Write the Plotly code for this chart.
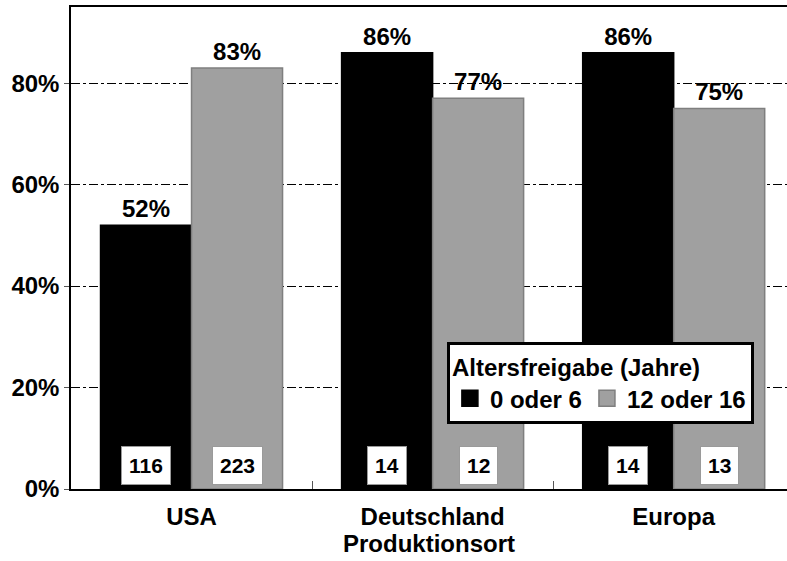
import plotly.graph_objects as go

categories = ["USA", "Deutschland", "Europa"]
series_names = ["0 oder 6", "12 oder 16"]
series_colors = ["#000000", "#a0a0a0"]
series_edges = ["#000000", "#7f7f7f"]
pct_young = [52, 86, 86]
pct_old = [83, 77, 75]
n_young = [116, 14, 14]
n_old = [223, 12, 13]
y_ticks = [0, 20, 40, 60, 80]
y_ticklabels = ["0%", "20%", "40%", "60%", "80%"]

FONT = "Liberation Sans, Arial, Helvetica, sans-serif"
BARGAP = 0.245

fig = go.Figure()
for name, vals, col, edge in zip(series_names, [pct_young, pct_old], series_colors, series_edges):
    fig.add_trace(go.Bar(
        x=categories, y=vals, name=name, showlegend=False,
        marker=dict(color=col, line=dict(color=edge, width=1.5)),
        text=[f"{v}%" for v in vals], textposition="outside",
        textfont=dict(size=24, color="black", family=FONT, weight="bold"),
        cliponaxis=False,
    ))
# legend proxies (larger square swatches)
for name, col, edge in zip(series_names, series_colors, series_edges):
    fig.add_trace(go.Scatter(
        x=[None], y=[None], mode="markers", name=name,
        marker=dict(symbol="square", size=18, color=col, line=dict(color=edge, width=1.5)),
        showlegend=True,
    ))

half = (1 - BARGAP) / 4
for i, (a, b) in enumerate(zip(n_young, n_old)):
    for xv, val in ((i - half, a), (i + half, b)):
        fig.add_annotation(
            x=xv, y=4.6, xref="x", yref="y", text=str(val), showarrow=False,
            font=dict(size=21, color="black", family=FONT, weight="bold"),
            bgcolor="white", bordercolor="#9a9a9a", borderwidth=1, borderpad=7,
        )

fig.update_layout(
    width=787, height=561,
    margin=dict(l=71, r=0, t=7, b=72),
    paper_bgcolor="white", plot_bgcolor="white",
    font=dict(family=FONT, size=24, color="black", weight="bold"),
    barmode="group", bargap=BARGAP, bargroupgap=0,
    showlegend=True,
    legend=dict(
        x=0.525, y=0.305, xanchor="left", yanchor="top",
        orientation="h",
        title=dict(text="Altersfreigabe (Jahre)", side="top",
                   font=dict(size=24, family=FONT, weight="bold")),
        font=dict(size=24, family=FONT, weight="bold"),
        bgcolor="white", bordercolor="black", borderwidth=3,
        itemsizing="trace", traceorder="normal", itemwidth=30,
    ),
)
fig.update_xaxes(
    type="category", range=[-0.5, 2.47],
    showline=True, linecolor="black", linewidth=1.5, mirror=True,
    ticks="inside", tickson="boundaries", ticklen=8, tickcolor="#555555",
    tickfont=dict(size=24, family=FONT, weight="bold"),
    ticklabelstandoff=5,
    showgrid=False,
    title=dict(text="Produktionsort", standoff=5,
               font=dict(size=24, family=FONT, weight="bold")),
)
fig.update_yaxes(
    range=[0, 95], tickvals=y_ticks, ticktext=y_ticklabels,
    showline=True, linecolor="black", linewidth=1.5, mirror=False,
    ticks="outside", ticklen=5, tickcolor="#555555",
    tickfont=dict(size=24, family=FONT, weight="bold"),
    showgrid=True, gridcolor="black", gridwidth=1, griddash="dashdot",
    zeroline=False,
)

fig.write_html("out.html")
